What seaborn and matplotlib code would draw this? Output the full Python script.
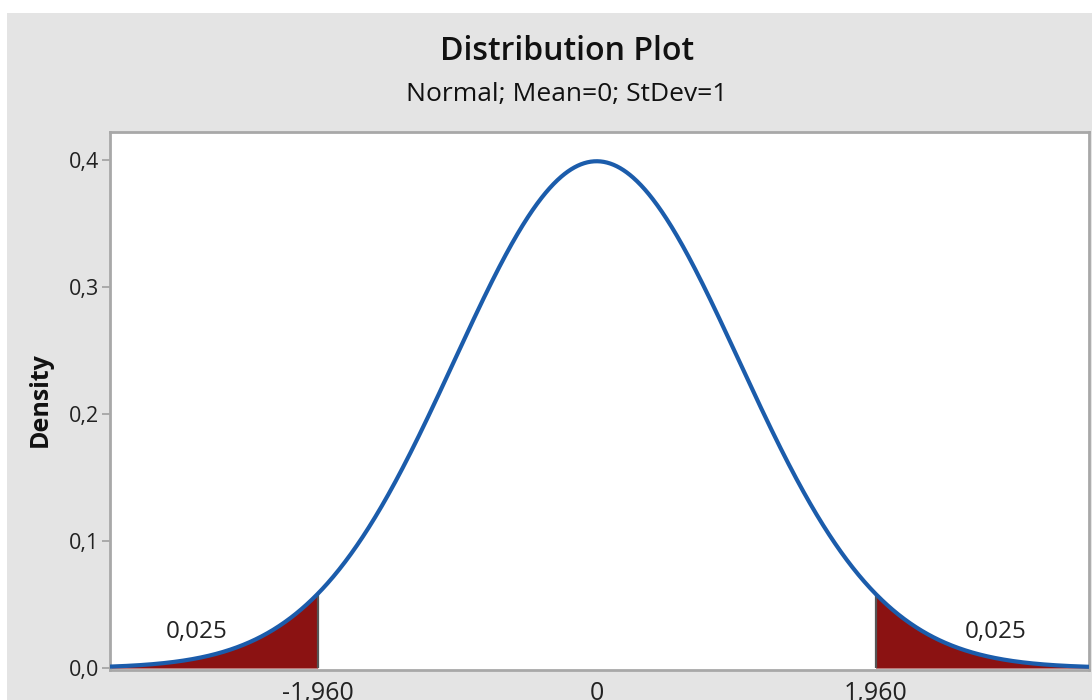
import numpy as np
import pandas as pd
import matplotlib
matplotlib.use("Agg")
import matplotlib.pyplot as plt
import seaborn as sns
from matplotlib.patches import Rectangle

# Distribution parameters and critical region
mean = 0.0
stdev = 1.0
crit_values = [-1.960, 1.960]
tail_labels = ["0,025", "0,025"]
tail_label_x = [-2.81, 2.80]
tail_label_y = [0.028, 0.028]

# Axis ticks and range
x_tick_values = [-1.960, 0.0, 1.960]
x_tick_labels = ["-1,960", "0", "1,960"]
y_tick_values = [0.0, 0.1, 0.2, 0.3, 0.4]
y_tick_labels = ["0,0", "0,1", "0,2", "0,3", "0,4"]
x_range = [-3.42, 3.46]
y_range = [-0.0015, 0.422]

sns.set_theme(style="white")
plt.rcParams["font.family"] = ["Open Sans", "DejaVu Sans"]


def normal_pdf(v):
    v = np.asarray(v, dtype=float)
    return np.exp(-0.5 * ((v - mean) / stdev) ** 2) / (stdev * np.sqrt(2 * np.pi))


x = np.linspace(x_range[0], x_range[1], 1500)
df = pd.DataFrame({"x": x, "Density": normal_pdf(x)})

fig = plt.figure(figsize=(10.92, 7), dpi=100)
fig.patch.set_facecolor("white")
fig.add_artist(Rectangle((0.0064, 0.0), 1.0, 0.9814, transform=fig.transFigure,
                         facecolor="#e4e4e4", edgecolor="none", zorder=-1))

ax = fig.add_axes([0.1007, 0.0429, 0.8966, 0.7686])
ax.set_facecolor("white")

# Shaded tails
fill_color = "#8b1212"
left = df[df["x"] <= crit_values[0]]
right = df[df["x"] >= crit_values[1]]
ax.fill_between(np.append(left["x"], crit_values[0]),
                np.append(left["Density"], normal_pdf(crit_values[0])),
                0, color=fill_color, linewidth=0, zorder=2)
ax.fill_between(np.insert(right["x"].values, 0, crit_values[1]),
                np.insert(right["Density"].values, 0, normal_pdf(crit_values[1])),
                0, color=fill_color, linewidth=0, zorder=2)
ax.vlines(crit_values, 0, normal_pdf(crit_values), color="#555555", linewidth=1.6, zorder=3)

# Density curve
sns.lineplot(data=df, x="x", y="Density", ax=ax, color="#1b5cab", linewidth=3.0, zorder=4)

for lx, ly, lab in zip(tail_label_x, tail_label_y, tail_labels):
    ax.text(lx, ly, lab, ha="center", va="center", fontsize=17.5, color="#222222", zorder=5)

ax.set_xlim(*x_range)
ax.set_ylim(*y_range)
ax.set_xticks(x_tick_values)
ax.set_xticklabels(x_tick_labels)
ax.set_yticks(y_tick_values)
ax.set_yticklabels(y_tick_labels)
ax.tick_params(axis="x", length=0, pad=8, labelsize=18, labelcolor="#222222")
ax.tick_params(axis="y", left=True, length=6, width=1.2, color="#a0a0a0", pad=2,
               labelsize=15.5, labelcolor="#222222")
ax.set_xlabel("")
ax.set_ylabel("Density", fontsize=18, fontweight="bold", color="#111111")
ax.yaxis.set_label_coords(-0.0715, 0.502)
ax.yaxis.label.set_va("center")

for side in ["left", "right", "top", "bottom"]:
    ax.spines[side].set_visible(True)
    ax.spines[side].set_color("#a8a8a8")
    ax.spines[side].set_linewidth(2.0)

fig.text(0.5197, 1 - 52 / 700, "Distribution Plot", ha="center", va="center",
         fontsize=23, fontweight="semibold", color="#111111")
fig.text(0.519, 1 - 94 / 700, "Normal; Mean=0; StDev=1", ha="center", va="center",
         fontsize=19, color="#111111")

fig.savefig("out.png", dpi=100, facecolor=fig.get_facecolor())
